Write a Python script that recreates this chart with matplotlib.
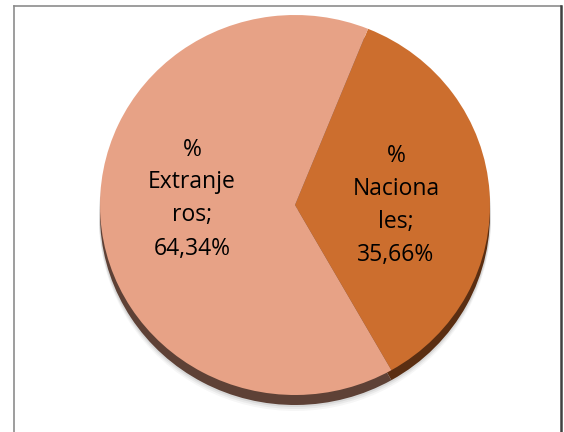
import matplotlib
matplotlib.use("Agg")
import matplotlib.pyplot as plt

labels = ["%\nNaciona\nles;\n35,66%", "%\nExtranje\nros;\n64,34%"]
values = [35.66, 64.34]
colors = ["#CC6E2E", "#E7A286"]
side_colors = ["#5A2E12", "#5E4136"]

W, H = 564, 432
ys = 195 / 190  # pie is a little flatter than round

fig = plt.figure(figsize=(5.64, 4.32), dpi=100)
ax = fig.add_axes([0, 0, 1, 1])

cx, cy, r = 295, (H - 205) * ys, 195
start = 68.0

# soft shadow
for k, a in [(15, 0.07), (13, 0.10), (11, 0.16)]:
    ax.pie(values, radius=r + 1, center=(cx, cy - k * ys), startangle=start,
           counterclock=False, colors=["#808080"] * 2,
           wedgeprops=dict(alpha=a, linewidth=0), frame=True)
# pie depth
ax.pie(values, radius=r, center=(cx, cy - 10 * ys), startangle=start,
       counterclock=False, colors=side_colors,
       wedgeprops=dict(linewidth=0), frame=True)
# top face
ax.pie(values, radius=r, center=(cx, cy), startangle=start,
       counterclock=False, colors=colors,
       wedgeprops=dict(linewidth=0), frame=True)
ax.set_aspect("auto")
ax.set_xlim(0, W)
ax.set_ylim(0, H * ys)
ax.axis("off")

font = ["Open Sans", "DejaVu Sans"]
ax.text(396, (H - 206) * ys, labels[0], ha="center", va="center", fontsize=16.5,
        family=font, linespacing=1.5)
ax.text(192, (H - 199) * ys, labels[1], ha="center", va="center", fontsize=16.5,
        family=font, linespacing=1.5)

# frame
fig.add_artist(plt.Line2D([14 / W, 14 / W], [0, 1 - 6 / H], color="#8c8c8c", lw=1.2))
fig.add_artist(plt.Line2D([14 / W, 561 / W], [1 - 6 / H, 1 - 6 / H], color="#8c8c8c", lw=1.2))
fig.add_artist(plt.Line2D([561 / W, 561 / W], [0, 1 - 6 / H], color="#404040", lw=1.8))

fig.savefig("out.png", dpi=100)
